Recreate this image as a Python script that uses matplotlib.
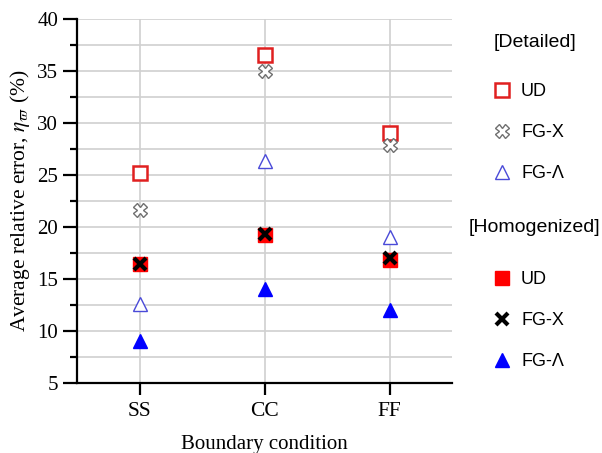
import numpy as np
import matplotlib.pyplot as plt
from matplotlib.lines import Line2D

# Boundary conditions on the x axis
conditions = ["SS", "CC", "FF"]

# Detailed model, average relative error (%)
det_ud = [25.2, 36.5, 29.0]
det_fgx = [21.6, 35.0, 27.9]
det_fgl = [12.6, 26.3, 19.0]

# Homogenized model, average relative error (%)
hom_ud = [16.4, 19.2, 16.8]
hom_fgx = [16.4, 19.3, 17.0]
hom_fgl = [9.0, 14.0, 12.0]

serif = ["Liberation Serif", "DejaVu Serif"]
sans = ["Liberation Sans", "DejaVu Sans"]
plt.rcParams["mathtext.fontset"] = "stix"

fig = plt.figure(figsize=(6.02, 4.53), dpi=100)
ax = fig.add_axes([0.128, 0.155, 0.623, 0.803])

x = np.arange(1, len(conditions) + 1)

styles = {
    "det_ud": dict(marker="s", ms=10, mfc="white", mec="#e02020", mew=1.8, ls="none"),
    "det_fgx": dict(marker="X", ms=10, mfc="white", mec="#707070", mew=1.0, ls="none"),
    "det_fgl": dict(marker="^", ms=10, mfc="white", mec="#4a4ad8", mew=1.0, ls="none"),
    "hom_ud": dict(marker="s", ms=10, mfc="#ff0000", mec="#ff0000", mew=1.0, ls="none"),
    "hom_fgx": dict(marker="x", ms=8, mec="black", mew=3.0, ls="none"),
    "hom_fgl": dict(marker="^", ms=10, mfc="#0000ff", mec="#0000ff", mew=1.0, ls="none"),
}

ax.plot(x, det_ud, **styles["det_ud"], zorder=3)
ax.plot(x, det_fgx, **styles["det_fgx"], zorder=3)
ax.plot(x, det_fgl, **styles["det_fgl"], zorder=3)
ax.plot(x, hom_ud, **styles["hom_ud"], zorder=3)
ax.plot(x, hom_fgx, **styles["hom_fgx"], zorder=4)
ax.plot(x, hom_fgl, **styles["hom_fgl"], zorder=3)

ax.set_xlim(0.5, 3.5)
ax.set_ylim(5, 40)
ax.set_xticks(x)
ax.set_xticklabels(conditions, fontfamily=serif, fontsize=15.5)
ax.set_yticks(np.arange(5, 41, 5))
ax.set_yticks(np.arange(7.5, 40, 5), minor=True)
for lab in ax.get_yticklabels():
    lab.set_fontfamily(serif)
    lab.set_fontsize(15)

ax.grid(True, which="both", axis="y", color="#d0d0d0", lw=1.2)
ax.grid(True, which="major", axis="x", color="#d0d0d0", lw=1.2)
ax.set_axisbelow(True)

for side in ["top", "right"]:
    ax.spines[side].set_visible(False)
for side in ["left", "bottom"]:
    ax.spines[side].set_linewidth(1.6)
ax.tick_params(axis="y", which="major", direction="out", length=10, width=1.6, pad=3.5)
ax.tick_params(axis="y", which="minor", direction="out", length=5, width=1.6)
ax.tick_params(axis="x", which="major", direction="out", length=8.6, width=1.6, pad=5)

ax.set_xlabel("Boundary condition", fontfamily=serif, fontsize=15, labelpad=10)
ax.set_ylabel(r"Average relative error, $\eta_{\varpi}$ (%)", fontfamily=serif,
              fontsize=15.5, labelpad=4)

# Legends: two groups with headers
def handles(keys):
    return [Line2D([], [], **styles[k]) for k in keys]

labels = ["UD", "FG-X", "FG-\u039b"]
leg_kw = dict(loc="upper left", frameon=False, prop={"family": sans, "size": 13},
              labelspacing=1.33, handlelength=1.0, handletextpad=0.55, borderpad=0,
              borderaxespad=0)
leg1 = fig.legend(handles(["det_ud", "det_fgx", "det_fgl"]), labels,
                  bbox_to_anchor=(0.819, 0.817), **leg_kw)
leg2 = fig.legend(handles(["hom_ud", "hom_fgx", "hom_fgl"]), labels,
                  bbox_to_anchor=(0.819, 0.401), **leg_kw)

fig.text(0.889, 0.906, "[Detailed]", ha="center", va="center",
         fontfamily=sans, fontsize=14)
fig.text(0.887, 0.497, "[Homogenized]", ha="center", va="center",
         fontfamily=sans, fontsize=14)

fig.savefig("out.png", dpi=100)
